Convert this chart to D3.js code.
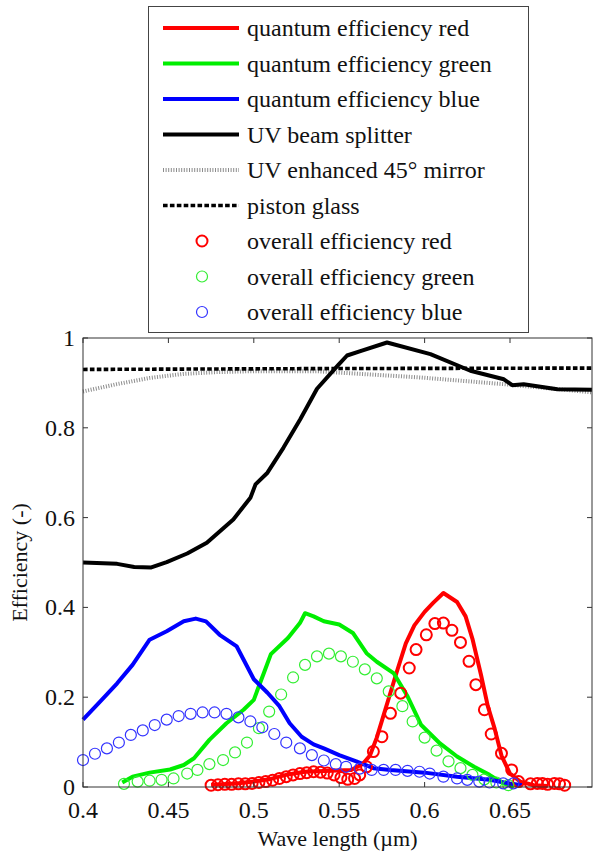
<!DOCTYPE html>
<html>
<head>
<meta charset="utf-8">
<script src="https://cdn.jsdelivr.net/npm/d3@7"></script>
<style>
  html, body { margin: 0; padding: 0; background: #fff; }
  svg { display: block; }
</style>
</head>
<body>
<div id="chart"></div>
<script>
// spectral efficiencies vs wavelength (µm)
const xTicks = [0.4, 0.45, 0.5, 0.55, 0.6, 0.65];
const yTicks = [0, 0.2, 0.4, 0.6, 0.8, 1];

const qeRed = [
  [0.475, 0.005], [0.49, 0.008], [0.50, 0.012], [0.51, 0.018], [0.52, 0.028], [0.53, 0.034],
  [0.545, 0.036], [0.557, 0.038], [0.564, 0.052], [0.568, 0.07], [0.572, 0.11], [0.576, 0.16],
  [0.580, 0.21], [0.584, 0.26], [0.589, 0.32], [0.594, 0.36], [0.600, 0.39], [0.605, 0.41],
  [0.611, 0.432], [0.619, 0.412], [0.624, 0.38], [0.628, 0.33], [0.633, 0.25], [0.637, 0.18],
  [0.641, 0.13], [0.645, 0.07], [0.650, 0.03], [0.656, 0.012], [0.664, 0.004], [0.672, 0.002]
];
const qeGreen = [
  [0.423, 0.010], [0.429, 0.023], [0.439, 0.032], [0.451, 0.039], [0.459, 0.049], [0.465, 0.064],
  [0.474, 0.105], [0.484, 0.142], [0.494, 0.172], [0.500, 0.194], [0.503, 0.225], [0.506, 0.255],
  [0.510, 0.296], [0.520, 0.332], [0.527, 0.365], [0.530, 0.387], [0.535, 0.380], [0.541, 0.369],
  [0.550, 0.362], [0.558, 0.343], [0.566, 0.298], [0.572, 0.279], [0.582, 0.253], [0.590, 0.202],
  [0.598, 0.138], [0.609, 0.097], [0.619, 0.068], [0.629, 0.045], [0.638, 0.027], [0.646, 0.008],
  [0.652, 0.001]
];
const qeBlue = [
  [0.400, 0.150], [0.410, 0.190], [0.420, 0.231], [0.429, 0.272], [0.439, 0.328], [0.449, 0.347],
  [0.459, 0.369], [0.466, 0.375], [0.472, 0.369], [0.480, 0.339], [0.490, 0.313], [0.500, 0.240],
  [0.508, 0.210], [0.515, 0.180], [0.521, 0.142], [0.528, 0.112], [0.535, 0.095], [0.541, 0.086],
  [0.550, 0.071], [0.560, 0.057], [0.570, 0.042], [0.580, 0.038], [0.600, 0.032], [0.619, 0.023],
  [0.638, 0.016], [0.650, 0.008], [0.657, 0.004]
];
const beamSplitter = [
  [0.400, 0.500], [0.420, 0.497], [0.430, 0.490], [0.440, 0.489], [0.449, 0.501], [0.461, 0.520],
  [0.4725, 0.544], [0.488, 0.596], [0.498, 0.644], [0.501, 0.674], [0.508, 0.700], [0.5174, 0.756],
  [0.5272, 0.819], [0.537, 0.887], [0.5495, 0.940], [0.5546, 0.961], [0.5624, 0.971], [0.578, 0.990],
  [0.6034, 0.964], [0.6268, 0.927], [0.6464, 0.908], [0.6513, 0.895], [0.658, 0.897], [0.6777, 0.886],
  [0.698, 0.885]
];
const mirror45 = [
  [0.400, 0.881], [0.4195, 0.897], [0.439, 0.911], [0.4586, 0.920], [0.478, 0.924], [0.4977, 0.926],
  [0.537, 0.926], [0.5495, 0.923], [0.598, 0.912], [0.647, 0.897], [0.698, 0.879]
];
const pistonGlass = [[0.400, 0.930], [0.55, 0.932], [0.698, 0.933]];

const ovRed = [
  [0.475, 0.004], [0.479, 0.005], [0.483, 0.006], [0.487, 0.006], [0.491, 0.007], [0.495, 0.007],
  [0.499, 0.008], [0.503, 0.010], [0.507, 0.012], [0.511, 0.015], [0.515, 0.019], [0.519, 0.023],
  [0.523, 0.027], [0.527, 0.030], [0.531, 0.032], [0.535, 0.034], [0.539, 0.033], [0.543, 0.031],
  [0.547, 0.027], [0.551, 0.021], [0.555, 0.017], [0.559, 0.019], [0.562, 0.027], [0.566, 0.045],
  [0.570, 0.079], [0.575, 0.112], [0.580, 0.164], [0.586, 0.209], [0.591, 0.265], [0.595, 0.306],
  [0.601, 0.339], [0.606, 0.364], [0.611, 0.365], [0.616, 0.349], [0.621, 0.322], [0.626, 0.280],
  [0.630, 0.228], [0.635, 0.172], [0.639, 0.118], [0.645, 0.075], [0.651, 0.038], [0.655, 0.012],
  [0.662, 0.007], [0.666, 0.008], [0.669, 0.008], [0.672, 0.006], [0.676, 0.008], [0.679, 0.007],
  [0.682, 0.004]
];
const ovGreen = [
  [0.424, 0.007], [0.432, 0.012], [0.439, 0.014], [0.446, 0.016], [0.453, 0.019], [0.461, 0.030],
  [0.467, 0.038], [0.474, 0.051], [0.482, 0.060], [0.489, 0.077], [0.496, 0.099], [0.503, 0.131],
  [0.509, 0.168], [0.516, 0.206], [0.523, 0.244], [0.530, 0.272], [0.537, 0.291], [0.544, 0.297],
  [0.551, 0.291], [0.558, 0.279], [0.565, 0.262], [0.572, 0.242], [0.579, 0.213], [0.587, 0.180],
  [0.593, 0.146], [0.600, 0.110], [0.607, 0.081], [0.614, 0.057], [0.621, 0.042], [0.628, 0.027],
  [0.635, 0.017], [0.642, 0.010], [0.649, 0.004]
];
const ovBlue = [
  [0.400, 0.060], [0.407, 0.074], [0.414, 0.086], [0.421, 0.099], [0.428, 0.116], [0.435, 0.126],
  [0.442, 0.138], [0.449, 0.150], [0.456, 0.158], [0.463, 0.163], [0.470, 0.166], [0.477, 0.166],
  [0.484, 0.163], [0.491, 0.155], [0.498, 0.146], [0.505, 0.133], [0.512, 0.118], [0.519, 0.099],
  [0.527, 0.086], [0.534, 0.071], [0.541, 0.059], [0.548, 0.051], [0.554, 0.045], [0.562, 0.041],
  [0.569, 0.038], [0.576, 0.038], [0.583, 0.038], [0.590, 0.036], [0.597, 0.034], [0.603, 0.030],
  [0.611, 0.023], [0.619, 0.019], [0.625, 0.016], [0.632, 0.012], [0.638, 0.010], [0.646, 0.008],
  [0.652, 0.008]
];

const LEGEND = [
  { label: "quantum efficiency red", kind: "line", color: "#ff0000" },
  { label: "quantum efficiency green", kind: "line", color: "#00ee00" },
  { label: "quantum efficiency blue", kind: "line", color: "#0000ff" },
  { label: "UV beam splitter", kind: "line", color: "#000" },
  { label: "UV enhanced 45° mirror", kind: "mirror", color: "#999" },
  { label: "piston glass", kind: "dash", color: "#000" },
  { label: "overall efficiency red", kind: "circle", color: "#ff0000", sw: 2 },
  { label: "overall efficiency green", kind: "circle", color: "#33ee33", sw: 1.2 },
  { label: "overall efficiency blue", kind: "circle", color: "#3333ff", sw: 1.2 },
];

const W = 593, H = 854;
const ML = 83, MR = 592, MT = 338, MB = 787;
const FONT = "Liberation Serif";

const x = d3.scaleLinear().domain([0.4, 0.698]).range([ML, MR]);
const y = d3.scaleLinear().domain([0, 1]).range([MB, MT]);

const svg = d3.select("#chart").append("svg")
  .attr("width", W).attr("height", H)
  .attr("viewBox", `0 0 ${W} ${H}`);

const txt = (sel, size) => sel.attr("font-family", FONT).attr("font-size", size).attr("fill", "#111");

const line = d3.line().x(d => x(d[0])).y(d => y(d[1]));

// 先画灰色镜面、虚线，再画实线和圆圈
svg.append("path").attr("d", line(mirror45))
  .attr("fill", "none").attr("stroke", "#8c8c8c").attr("stroke-width", 4)
  .attr("stroke-dasharray", "1 1.6");
svg.append("path").attr("d", line(pistonGlass))
  .attr("fill", "none").attr("stroke", "#000").attr("stroke-width", 3.6)
  .attr("stroke-dasharray", "4.6 2.3");
svg.append("path").attr("d", line(beamSplitter))
  .attr("fill", "none").attr("stroke", "#000").attr("stroke-width", 4)
  .attr("stroke-linejoin", "round");

[[qeRed, "#ff0000"], [qeGreen, "#00ee00"], [qeBlue, "#0000ff"]].forEach(([data, c]) => {
  svg.append("path").attr("d", line(data))
    .attr("fill", "none").attr("stroke", c).attr("stroke-width", 4)
    .attr("stroke-linejoin", "round");
});

[[ovRed, "#ff0000", 2], [ovGreen, "#33ee33", 1.2], [ovBlue, "#3333ff", 1.2]].forEach(([data, c, sw]) => {
  svg.append("g").selectAll("circle").data(data).join("circle")
    .attr("cx", d => x(d[0])).attr("cy", d => y(d[1])).attr("r", 5.5)
    .attr("fill", "none").attr("stroke", c).attr("stroke-width", sw);
});

// 坐标框与内向刻度
svg.append("rect").attr("x", ML).attr("y", MT)
  .attr("width", MR - ML).attr("height", MB - MT)
  .attr("fill", "none").attr("stroke", "#333").attr("stroke-width", 1);

const TK = 5;
xTicks.forEach(v => {
  svg.append("line").attr("x1", x(v)).attr("x2", x(v)).attr("y1", MB).attr("y2", MB - TK)
    .attr("stroke", "#333");
  svg.append("line").attr("x1", x(v)).attr("x2", x(v)).attr("y1", MT).attr("y2", MT + TK)
    .attr("stroke", "#333");
  svg.append("text").attr("x", x(v)).attr("y", MB + 31)
    .attr("text-anchor", "middle").call(txt, 24)
    .text(String(v));
});
yTicks.forEach(v => {
  svg.append("line").attr("x1", ML).attr("x2", ML + TK).attr("y1", y(v)).attr("y2", y(v))
    .attr("stroke", "#333");
  svg.append("line").attr("x1", MR).attr("x2", MR - TK).attr("y1", y(v)).attr("y2", y(v))
    .attr("stroke", "#333");
  svg.append("text").attr("x", ML - 8).attr("y", y(v) + 8)
    .attr("text-anchor", "end").call(txt, 24)
    .text(String(v));
});

svg.append("text").attr("x", (ML + MR) / 2).attr("y", 846)
  .attr("text-anchor", "middle").call(txt, 22)
  .text("Wave length (µm)");
svg.append("text")
  .attr("transform", `translate(27, ${(MT + MB) / 2}) rotate(-90)`)
  .attr("text-anchor", "middle").call(txt, 22)
  .text("Efficiency (-)");

// 图例
const lg = svg.append("g");
lg.append("rect").attr("x", 148.5).attr("y", 6.5).attr("width", 380).attr("height", 326)
  .attr("fill", "#fff").attr("stroke", "#444").attr("stroke-width", 1);
LEGEND.forEach((d, i) => {
  const cy = 28 + i * 35.5;
  if (d.kind === "circle") {
    lg.append("circle").attr("cx", 202).attr("cy", cy).attr("r", 5.5)
      .attr("fill", "none").attr("stroke", d.color).attr("stroke-width", d.sw);
  } else {
    const l = lg.append("line").attr("x1", 163).attr("x2", 239).attr("y1", cy).attr("y2", cy)
      .attr("stroke", d.color);
    if (d.kind === "line") l.attr("stroke-width", 4);
    if (d.kind === "mirror") l.attr("stroke", "#8c8c8c").attr("stroke-width", 4).attr("stroke-dasharray", "1 1.6");
    if (d.kind === "dash") l.attr("stroke-width", 3.6).attr("stroke-dasharray", "4.6 2.3");
  }
  lg.append("text").attr("x", 247).attr("y", cy + 8).call(txt, 24)
    .text(d.label);
});
</script>
</body>
</html>
